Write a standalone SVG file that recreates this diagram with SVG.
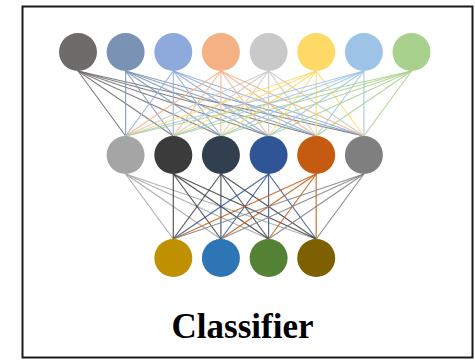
<svg xmlns="http://www.w3.org/2000/svg" width="475" height="360" viewBox="0 0 475 360">
<style>
.e{stroke-width:1.2;stroke-opacity:0.85;fill:none}
.n{stroke:none}
.t{font-family:"Liberation Serif","Times New Roman",serif;font-weight:bold;font-size:35px;fill:#000}
</style>
<rect x="0" y="0" width="475" height="360" fill="#fff"/>
<rect id="frame" x="22.5" y="6.5" width="450" height="351" fill="#fff" stroke="#1a1a1a" stroke-width="2"/>
<g id="connectors">
<g class="e" stroke="#6e6b6b"><line x1="78" y1="71" x2="125.6" y2="136"/><line x1="78" y1="71" x2="173.3" y2="136"/><line x1="78" y1="71" x2="220.9" y2="136"/><line x1="78" y1="71" x2="268.6" y2="136"/><line x1="78" y1="71" x2="316.2" y2="136"/><line x1="78" y1="71" x2="363.9" y2="136"/></g>
<g class="e" stroke="#7a93b5"><line x1="125.6" y1="71" x2="125.6" y2="136"/><line x1="125.6" y1="71" x2="173.3" y2="136"/><line x1="125.6" y1="71" x2="220.9" y2="136"/><line x1="125.6" y1="71" x2="268.6" y2="136"/><line x1="125.6" y1="71" x2="316.2" y2="136"/><line x1="125.6" y1="71" x2="363.9" y2="136"/></g>
<g class="e" stroke="#8eaadc"><line x1="173.3" y1="71" x2="125.6" y2="136"/><line x1="173.3" y1="71" x2="173.3" y2="136"/><line x1="173.3" y1="71" x2="220.9" y2="136"/><line x1="173.3" y1="71" x2="268.6" y2="136"/><line x1="173.3" y1="71" x2="316.2" y2="136"/><line x1="173.3" y1="71" x2="363.9" y2="136"/></g>
<g class="e" stroke="#f4b183"><line x1="220.9" y1="71" x2="125.6" y2="136"/><line x1="220.9" y1="71" x2="173.3" y2="136"/><line x1="220.9" y1="71" x2="220.9" y2="136"/><line x1="220.9" y1="71" x2="268.6" y2="136"/><line x1="220.9" y1="71" x2="316.2" y2="136"/><line x1="220.9" y1="71" x2="363.9" y2="136"/></g>
<g class="e" stroke="#c9c9c9"><line x1="268.6" y1="71" x2="125.6" y2="136"/><line x1="268.6" y1="71" x2="173.3" y2="136"/><line x1="268.6" y1="71" x2="220.9" y2="136"/><line x1="268.6" y1="71" x2="268.6" y2="136"/><line x1="268.6" y1="71" x2="316.2" y2="136"/><line x1="268.6" y1="71" x2="363.9" y2="136"/></g>
<g class="e" stroke="#ffd966"><line x1="316.2" y1="71" x2="125.6" y2="136"/><line x1="316.2" y1="71" x2="173.3" y2="136"/><line x1="316.2" y1="71" x2="220.9" y2="136"/><line x1="316.2" y1="71" x2="268.6" y2="136"/><line x1="316.2" y1="71" x2="316.2" y2="136"/><line x1="316.2" y1="71" x2="363.9" y2="136"/></g>
<g class="e" stroke="#9dc3e6"><line x1="363.9" y1="71" x2="125.6" y2="136"/><line x1="363.9" y1="71" x2="173.3" y2="136"/><line x1="363.9" y1="71" x2="220.9" y2="136"/><line x1="363.9" y1="71" x2="268.6" y2="136"/><line x1="363.9" y1="71" x2="316.2" y2="136"/><line x1="363.9" y1="71" x2="363.9" y2="136"/></g>
<g class="e" stroke="#a9d18e"><line x1="411.5" y1="71" x2="125.6" y2="136"/><line x1="411.5" y1="71" x2="173.3" y2="136"/><line x1="411.5" y1="71" x2="220.9" y2="136"/><line x1="411.5" y1="71" x2="268.6" y2="136"/><line x1="411.5" y1="71" x2="316.2" y2="136"/><line x1="411.5" y1="71" x2="363.9" y2="136"/></g>
<g class="e" stroke="#a5a5a5"><line x1="125.6" y1="174" x2="173.3" y2="239"/><line x1="125.6" y1="174" x2="220.9" y2="239"/><line x1="125.6" y1="174" x2="268.6" y2="239"/><line x1="125.6" y1="174" x2="316.2" y2="239"/></g>
<g class="e" stroke="#3b3b3b"><line x1="173.3" y1="174" x2="173.3" y2="239"/><line x1="173.3" y1="174" x2="220.9" y2="239"/><line x1="173.3" y1="174" x2="268.6" y2="239"/><line x1="173.3" y1="174" x2="316.2" y2="239"/></g>
<g class="e" stroke="#323f4f"><line x1="220.9" y1="174" x2="173.3" y2="239"/><line x1="220.9" y1="174" x2="220.9" y2="239"/><line x1="220.9" y1="174" x2="268.6" y2="239"/><line x1="220.9" y1="174" x2="316.2" y2="239"/></g>
<g class="e" stroke="#2f5597"><line x1="268.6" y1="174" x2="173.3" y2="239"/><line x1="268.6" y1="174" x2="220.9" y2="239"/><line x1="268.6" y1="174" x2="268.6" y2="239"/><line x1="268.6" y1="174" x2="316.2" y2="239"/></g>
<g class="e" stroke="#c55a11"><line x1="316.2" y1="174" x2="173.3" y2="239"/><line x1="316.2" y1="174" x2="220.9" y2="239"/><line x1="316.2" y1="174" x2="268.6" y2="239"/><line x1="316.2" y1="174" x2="316.2" y2="239"/></g>
<g class="e" stroke="#7f7f7f"><line x1="363.9" y1="174" x2="173.3" y2="239"/><line x1="363.9" y1="174" x2="220.9" y2="239"/><line x1="363.9" y1="174" x2="268.6" y2="239"/><line x1="363.9" y1="174" x2="316.2" y2="239"/></g>
</g>
<g id="in1"><circle class="n" cx="78" cy="52" r="19" fill="#6e6b6b"/></g>
<g id="in2"><circle class="n" cx="125.6" cy="52" r="19" fill="#7a93b5"/></g>
<g id="in3"><circle class="n" cx="173.3" cy="52" r="19" fill="#8eaadc"/></g>
<g id="in4"><circle class="n" cx="220.9" cy="52" r="19" fill="#f4b183"/></g>
<g id="in5"><circle class="n" cx="268.6" cy="52" r="19" fill="#c9c9c9"/></g>
<g id="in6"><circle class="n" cx="316.2" cy="52" r="19" fill="#ffd966"/></g>
<g id="in7"><circle class="n" cx="363.9" cy="52" r="19" fill="#9dc3e6"/></g>
<g id="in8"><circle class="n" cx="411.5" cy="52" r="19" fill="#a9d18e"/></g>
<g id="h1"><circle class="n" cx="125.6" cy="155" r="19" fill="#a5a5a5"/></g>
<g id="h2"><circle class="n" cx="173.3" cy="155" r="19" fill="#3b3b3b"/></g>
<g id="h3"><circle class="n" cx="220.9" cy="155" r="19" fill="#323f4f"/></g>
<g id="h4"><circle class="n" cx="268.6" cy="155" r="19" fill="#2f5597"/></g>
<g id="h5"><circle class="n" cx="316.2" cy="155" r="19" fill="#c55a11"/></g>
<g id="h6"><circle class="n" cx="363.9" cy="155" r="19" fill="#7f7f7f"/></g>
<g id="o1"><circle class="n" cx="173.3" cy="258" r="19" fill="#bf9000"/></g>
<g id="o2"><circle class="n" cx="220.9" cy="258" r="19" fill="#2e75b6"/></g>
<g id="o3"><circle class="n" cx="268.6" cy="258" r="19" fill="#548235"/></g>
<g id="o4"><circle class="n" cx="316.2" cy="258" r="19" fill="#7f6000"/></g>
<g id="title"><text class="t" x="242.5" y="338" text-anchor="middle">Classifier</text></g>
</svg>
